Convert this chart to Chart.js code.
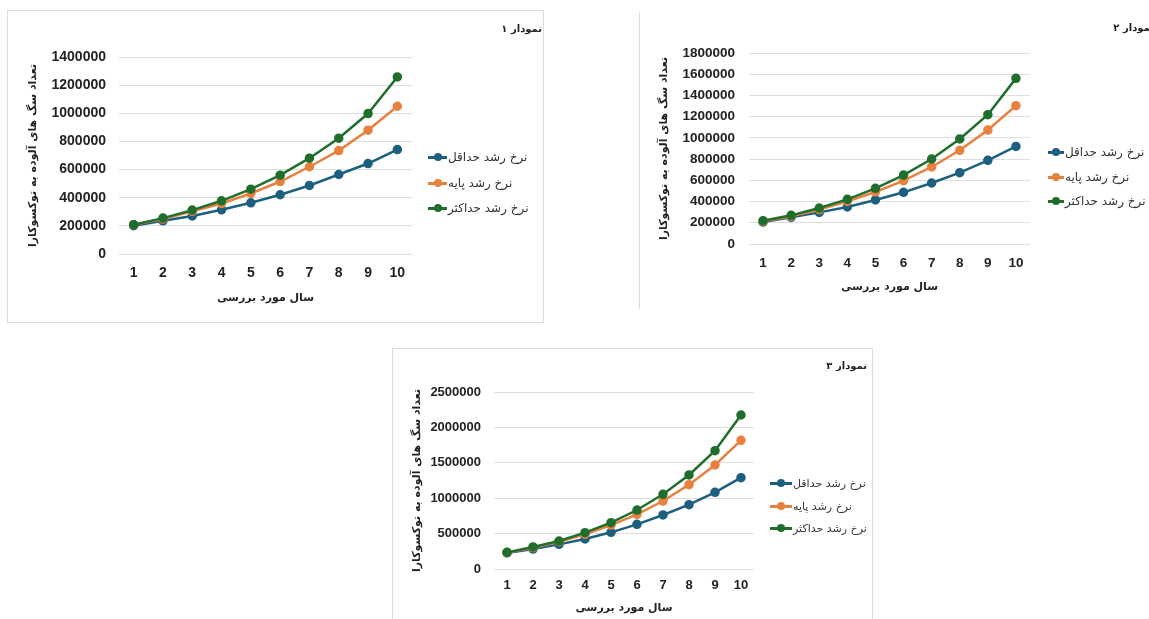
<!DOCTYPE html>
<html lang="fa">
<head>
<meta charset="utf-8">
<script src="https://cdn.jsdelivr.net/npm/chart.js@4.4.0/dist/chart.umd.min.js"></script>
<style>
  body { margin: 0; width: 1149px; height: 619px; overflow: hidden; background: #fff; position: relative; font-family: "DejaVu Sans", sans-serif; }
  .box { position: absolute; box-sizing: border-box; }
  .box canvas { position: absolute; left: 0; top: 0; }
  .title { position: absolute; font-weight: bold; color: #222; white-space: nowrap; direction: rtl; line-height: 1; }
  .item { position: absolute; white-space: nowrap; color: #333; line-height: 1; }
  .item .line { position: absolute; left: 0; height: 3px; margin-top: -1.5px; }
  .item .dot { position: absolute; width: 8px; height: 8px; border-radius: 50%; margin-top: -4px; margin-left: -4px; }
  .item span { position: absolute; direction: rtl; transform: translateY(-50%); }
</style>
</head>
<body>
<script>
// سال ها
const years = ['1', '2', '3', '4', '5', '6', '7', '8', '9', '10'];
const seriesNames = ['نرخ رشد حداقل', 'نرخ رشد پایه', 'نرخ رشد حداکثر'];
const seriesColors = ['#1d5f7e', '#e8803f', '#1f6e2c'];

const xTitle = 'سال مورد بررسی';
const yTitle = 'تعداد سگ های آلوده به توکسوکارا';
const chartTitles = ['نمودار ۱', 'نمودار ۲', 'نمودار ۳'];

// نمودار ۱
const minRate1 = [201000, 236000, 270000, 314000, 364000, 421000, 487000, 565000, 643000, 742000];
const baseRate1 = [208000, 248000, 303000, 359000, 430000, 515000, 620000, 735000, 880000, 1050000];
const maxRate1 = [208000, 255000, 312000, 378000, 461000, 560000, 681000, 823000, 998000, 1258000];

// نمودار ۲
const minRate2 = [207000, 251000, 298000, 349000, 415000, 487000, 575000, 672000, 789000, 920000];
const baseRate2 = [214000, 261000, 324000, 402000, 490000, 597000, 726000, 883000, 1074000, 1304000];
const maxRate2 = [220000, 270000, 339000, 421000, 525000, 650000, 801000, 990000, 1219000, 1561000];

// نمودار ۳
const minRate3 = [226000, 282000, 348000, 424000, 518000, 631000, 763000, 909000, 1083000, 1290000];
const baseRate3 = [232000, 301000, 386000, 490000, 621000, 772000, 960000, 1191000, 1469000, 1817000];
const maxRate3 = [235000, 311000, 395000, 513000, 654000, 833000, 1055000, 1328000, 1671000, 2175000];

const yMax = [1400000, 1800000, 2500000];
const yStep = [200000, 200000, 500000];

function makeChart(n, series, lay) {
  const box = document.createElement('div');
  box.className = 'box';
  Object.assign(box.style, {
    left: lay.x + 'px', top: lay.y + 'px', width: lay.w + 'px', height: lay.h + 'px',
    borderLeft: '1px solid #dcdcdc',
    borderTop: lay.borderTop ? '1px solid #dcdcdc' : 'none',
    borderRight: lay.borderRight ? '1px solid #dcdcdc' : 'none',
    borderBottom: lay.borderBottom ? '1px solid #dcdcdc' : 'none'
  });
  document.body.appendChild(box);

  const cv = document.createElement('canvas');
  cv.width = lay.w; cv.height = lay.h;
  box.appendChild(cv);

  new Chart(cv, {
    type: 'line',
    data: {
      labels: years,
      datasets: series.map((d, i) => ({
        label: seriesNames[i],
        data: d,
        borderColor: seriesColors[i],
        backgroundColor: seriesColors[i],
        borderWidth: 2.5,
        pointRadius: 3.5,
        pointHoverRadius: 3.5,
        order: 2 - i,
        tension: 0
      }))
    },
    options: {
      responsive: false,
      animation: false,
      layout: { padding: { left: 0, top: lay.top, right: lay.right, bottom: 0 } },
      plugins: { legend: { display: false }, tooltip: { enabled: false } },
      scales: {
        x: {
          offset: true,
          grid: { display: false, drawTicks: false },
          border: { display: false },
          ticks: { color: '#222', font: { family: 'Liberation Sans', size: lay.tickSize, weight: 'bold' }, padding: lay.xPad, maxRotation: 0 },
          title: { display: true, text: xTitle, color: '#222', font: { family: 'DejaVu Sans', size: 11, weight: 'bold' }, padding: { top: 0, bottom: lay.xTitlePad } },
          afterFit: s => { s.height = lay.xh; }
        },
        y: {
          min: 0,
          max: yMax[n],
          grid: { color: '#dedede', drawTicks: false },
          border: { display: false },
          ticks: { stepSize: yStep[n], color: '#222', font: { family: 'Liberation Sans', size: lay.tickSize, weight: 'bold' }, padding: lay.yPad, callback: v => String(v) },
          title: { display: true, text: yTitle, color: '#222', font: { family: 'DejaVu Sans', size: 11, weight: 'bold' }, padding: { top: lay.yTitlePad, bottom: 0 } },
          afterFit: s => { s.width = lay.yw; }
        }
      }
    }
  });

  // عنوان نمودار
  const t = document.createElement('div');
  t.className = 'title';
  t.textContent = chartTitles[n];
  t.style.fontSize = lay.titleSize + 'px';
  t.style.right = (1149 - lay.titleRight) + 'px';
  t.style.top = (lay.titleY - lay.titleSize / 2) + 'px';
  document.body.appendChild(t);

  // راهنما
  seriesNames.forEach((name, i) => {
    const it = document.createElement('div');
    it.className = 'item';
    it.style.left = lay.legX + 'px';
    it.style.top = lay.legY[i] + 'px';
    it.style.fontSize = lay.legSize + 'px';
    it.innerHTML =
      '<div class="line" style="width:' + lay.legLine + 'px;background:' + seriesColors[i] + '"></div>' +
      '<div class="dot" style="left:' + (lay.legLine / 2) + 'px;background:' + seriesColors[i] + '"></div>' +
      '<span style="left:' + (lay.legLine + 1) + 'px">' + name + '</span>';
    document.body.appendChild(it);
  });
}

makeChart(0, [minRate1, baseRate1, maxRate1], {
  x: 7, y: 10, w: 537, h: 313, borderTop: true, borderRight: true, borderBottom: true,
  top: 46, right: 133, yw: 111, xh: 70, tickSize: 14, xPad: 11, yPad: 13, yTitlePad: 19, xTitlePad: 19,
  titleSize: 10, titleRight: 542, titleY: 29,
  legX: 428, legY: [157, 183, 208], legLine: 19, legSize: 12
});

makeChart(1, [minRate2, baseRate2, maxRate2], {
  x: 639, y: 12, w: 520, h: 297, borderTop: false, borderRight: false, borderBottom: false,
  top: 41, right: 130, yw: 109, xh: 65, tickSize: 13.5, xPad: 11, yPad: 14, yTitlePad: 18, xTitlePad: 15,
  titleSize: 10, titleRight: 1154, titleY: 28,
  legX: 1048, legY: [152, 177, 201], legLine: 16, legSize: 12
});

makeChart(2, [minRate3, baseRate3, maxRate3], {
  x: 392, y: 348, w: 481, h: 280, borderTop: true, borderRight: true, borderBottom: false,
  top: 43, right: 120, yw: 101, xh: 60, tickSize: 13, xPad: 9, yPad: 13, yTitlePad: 18, xTitlePad: 14,
  titleSize: 10, titleRight: 867, titleY: 366,
  legX: 770, legY: [483, 506, 528], legLine: 22, legSize: 11
});
</script>
</body>
</html>
